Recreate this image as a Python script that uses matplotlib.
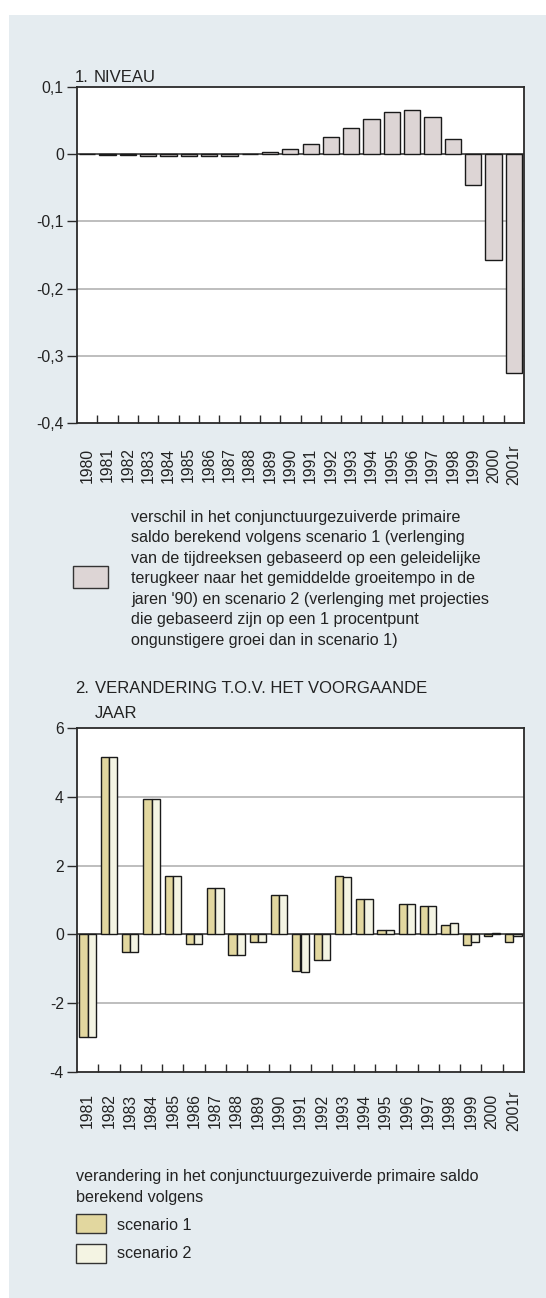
import matplotlib
matplotlib.use('Agg')
import matplotlib.pyplot as plt
from matplotlib.patches import Rectangle
import numpy as np

plt.rcParams['font.family'] = ['Liberation Sans', 'DejaVu Sans']

# ---------------- data ----------------
years_top = ['1980', '1981', '1982', '1983', '1984', '1985', '1986', '1987',
             '1988', '1989', '1990', '1991', '1992', '1993', '1994', '1995',
             '1996', '1997', '1998', '1999', '2000', '2001r']
niveau = [0.0, -0.001, -0.001, -0.002, -0.002, -0.002, -0.002, -0.002,
          0.0, 0.003, 0.007, 0.015, 0.026, 0.039, 0.053, 0.063,
          0.066, 0.056, 0.022, -0.046, -0.157, -0.325]

years_bot = ['1981', '1982', '1983', '1984', '1985', '1986', '1987', '1988',
             '1989', '1990', '1991', '1992', '1993', '1994', '1995', '1996',
             '1997', '1998', '1999', '2000', '2001r']
scenario1 = [-2.97, 5.15, -0.52, 3.95, 1.70, -0.27, 1.36, -0.61,
             -0.21, 1.15, -1.05, -0.74, 1.71, 1.04, 0.14, 0.89,
             0.82, 0.28, -0.30, -0.05, -0.23]
scenario2 = [-2.97, 5.15, -0.52, 3.95, 1.70, -0.27, 1.36, -0.61,
             -0.21, 1.15, -1.08, -0.74, 1.68, 1.02, 0.13, 0.89,
             0.84, 0.32, -0.22, 0.04, -0.04]

yticks_top = [0.1, 0.0, -0.1, -0.2, -0.3, -0.4]
ylabels_top = ['0,1', '0', '-0,1', '-0,2', '-0,3', '-0,4']
yticks_bot = [6, 4, 2, 0, -2, -4]
ylabels_bot = ['6', '4', '2', '0', '-2', '-4']

legend_top_lines = [
    "verschil in het conjunctuurgezuiverde primaire",
    "saldo berekend volgens scenario 1 (verlenging",
    "van de tijdreeksen gebaseerd op een geleidelijke",
    "terugkeer naar het gemiddelde groeitempo in de",
    "jaren '90) en scenario 2 (verlenging met projecties",
    "die gebaseerd zijn op een 1 procentpunt",
    "ongunstigere groei dan in scenario 1)",
]
legend_bot_lines = [
    "verandering in het conjunctuurgezuiverde primaire saldo",
    "berekend volgens",
]
series_names = ['scenario 1', 'scenario 2']

# ---------------- style ----------------
W, H = 546, 1298
BG = '#e5ecf0'
TXT = '#222222'
SPINE = '#2a2a2a'
GRID = '#b9b9b9'
C_TOP = '#ddd5d5'
C_S1 = '#e2d79f'
C_S2 = '#f4f4e3'
FS = 11.3
FS_LEG = 11.6


def fx(px):
    return px / W


def fy(py):
    return 1 - py / H


fig = plt.figure(figsize=(W / 100, H / 100), dpi=100)
fig.patch.set_facecolor('white')
fig.patches.append(Rectangle((fx(9), 0), 1, fy(15), transform=fig.transFigure,
                             facecolor=BG, edgecolor='none', zorder=-10))


def style_axes(ax, yticks, ylabels, labels, pad_px):
    n = len(labels)
    x = np.arange(n)
    ax.set_facecolor('white')
    ax.set_xlim(-0.5, n - 0.5)
    ax.set_xticks(x)
    ax.set_xticklabels(labels, rotation=90, fontsize=FS, color=TXT)
    for t in ax.get_xticklabels():
        t.set_va('center')
    ax.tick_params(axis='x', which='major', length=0, pad=pad_px * 0.72)
    ax.set_xticks(x[:-1] + 0.5, minor=True)
    ax.tick_params(axis='x', which='minor', direction='in', length=5.5,
                   width=1.0, color=SPINE)
    ax.set_yticks(yticks)
    ax.set_yticklabels(ylabels, fontsize=FS, color=TXT)
    ax.tick_params(axis='y', direction='out', length=7, width=1.0,
                   color=SPINE, pad=2.5)
    for s in ax.spines.values():
        s.set_color(SPINE)
        s.set_linewidth(1.3)
        s.set_zorder(6)
    lo, hi = min(yticks), max(yticks)
    for v in yticks:
        if v != 0 and v != lo and v != hi:
            ax.axhline(v, color=GRID, lw=1.3, zorder=1)
    ax.axhline(0, color=SPINE, lw=1.1, zorder=2)
    ax.set_ylim(lo, hi)
    return x


# ---------------- chart 1 ----------------
ax1 = fig.add_axes([fx(77), fy(423), fx(447), 336 / H])
x1 = style_axes(ax1, yticks_top, ylabels_top, years_top, 42)
ax1.bar(x1, niveau, width=0.8, color=C_TOP, edgecolor='#1a1a1a',
        linewidth=1.0, zorder=3)

fig.text(fx(75), fy(82), '1.', fontsize=FS + 0.7, color=TXT, va='baseline')
fig.text(fx(94), fy(82), 'NIVEAU', fontsize=FS + 0.7, color=TXT, va='baseline')

# legend 1
fig.patches.append(Rectangle((fx(73), fy(588)), fx(35), 22 / H,
                             transform=fig.transFigure, facecolor=C_TOP,
                             edgecolor='#333333', linewidth=1.0))
for i, line in enumerate(legend_top_lines):
    fig.text(fx(131), fy(521.7 + 20.5 * i), line, fontsize=FS_LEG, color=TXT,
             va='baseline')

# ---------------- chart 2 ----------------
fig.text(fx(75), fy(692.7), '2.', fontsize=FS + 0.7, color=TXT, va='baseline')
fig.text(fx(95), fy(692.7), 'VERANDERING T.O.V. HET VOORGAANDE',
         fontsize=FS + 0.7, color=TXT, va='baseline')
fig.text(fx(95), fy(717.7), 'JAAR', fontsize=FS + 0.7, color=TXT,
         va='baseline')

ax2 = fig.add_axes([fx(77), fy(1072), fx(447), 344 / H])
x2 = style_axes(ax2, yticks_bot, ylabels_bot, years_bot, 39)
bw = 0.385
ax2.bar(x2 - bw / 2, scenario1, width=bw, color=C_S1, edgecolor='#1a1a1a',
        linewidth=1.0, zorder=3)
ax2.bar(x2 + bw / 2, scenario2, width=bw, color=C_S2, edgecolor='#1a1a1a',
        linewidth=1.0, zorder=3)

# legend 2
for i, line in enumerate(legend_bot_lines):
    fig.text(fx(76), fy(1181 + 20.7 * i), line, fontsize=FS_LEG, color=TXT,
             va='baseline')
for i, (name, col) in enumerate(zip(series_names, [C_S1, C_S2])):
    top = 1214 + 30 * i
    fig.patches.append(Rectangle((fx(76), fy(top + 19)), fx(30), 19 / H,
                                 transform=fig.transFigure, facecolor=col,
                                 edgecolor='#333333', linewidth=1.0))
    fig.text(fx(117), fy(1230 + 28.3 * i), name, fontsize=FS_LEG, color=TXT,
             va='baseline')

fig.savefig('out.png', dpi=100, facecolor=fig.get_facecolor())
